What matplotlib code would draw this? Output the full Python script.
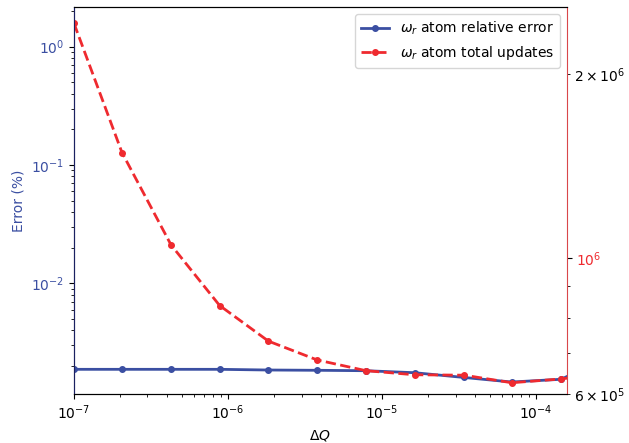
import numpy as np
import matplotlib
matplotlib.use("Agg")
import matplotlib.pyplot as plt

dq = [1.0e-7, 2.05e-7, 4.27e-7, 8.82e-7, 1.83e-6, 3.79e-6, 7.86e-6,
      1.63e-5, 3.41e-5, 6.94e-5, 1.456e-4, 3.0e-4]
rel_error = [1.875e-3, 1.875e-3, 1.875e-3, 1.875e-3, 1.85e-3, 1.84e-3,
             1.825e-3, 1.755e-3, 1.60e-3, 1.465e-3, 1.545e-3, 2.45e-3]
total_updates = [2.42e6, 1.488e6, 1.051e6, 8.37e5, 7.32e5, 6.82e5,
                 6.55e5, 6.45e5, 6.44e5, 6.26e5, 6.35e5, 6.5e5]

blue = '#3b4fa2'
red = '#ef2a2f'

fig = plt.figure(figsize=(6.29, 4.43), dpi=100)
ax1 = fig.add_axes([0.1176, 0.1106, 0.7834, 0.8729])
ax2 = ax1.twinx()

l1, = ax1.plot(dq, rel_error, '-o', color=blue, lw=2, ms=4,
               label=r'$\omega_r$ atom relative error')
l2, = ax2.plot(dq, total_updates, '--o', color=red, lw=2, ms=4,
               label=r'$\omega_r$ atom total updates')

ax1.set_xscale('log')
ax1.set_yscale('log')
ax2.set_yscale('log')
ax1.set_xlim(1e-7, 1.58e-4)
ax1.set_ylim(1.16e-3, 2.15)
ax2.set_ylim(6.0e5, 2.57e6)

ax1.set_xlabel(r'$\Delta Q$', fontsize=10)
ax1.set_ylabel('Error (%)', color=blue, fontsize=10)
ax1.tick_params(axis='y', labelcolor=blue)
ax2.tick_params(axis='y', labelcolor=red)

ax1.spines['left'].set_color('#1a2060')
ax2.spines['left'].set_color('#1a2060')
ax2.spines['right'].set_color('#d9474a')
ax1.spines['right'].set_visible(False)

ax1.legend(handles=[l1, l2], loc='upper right', fontsize=10)

fig.savefig('out.png', dpi=100)
